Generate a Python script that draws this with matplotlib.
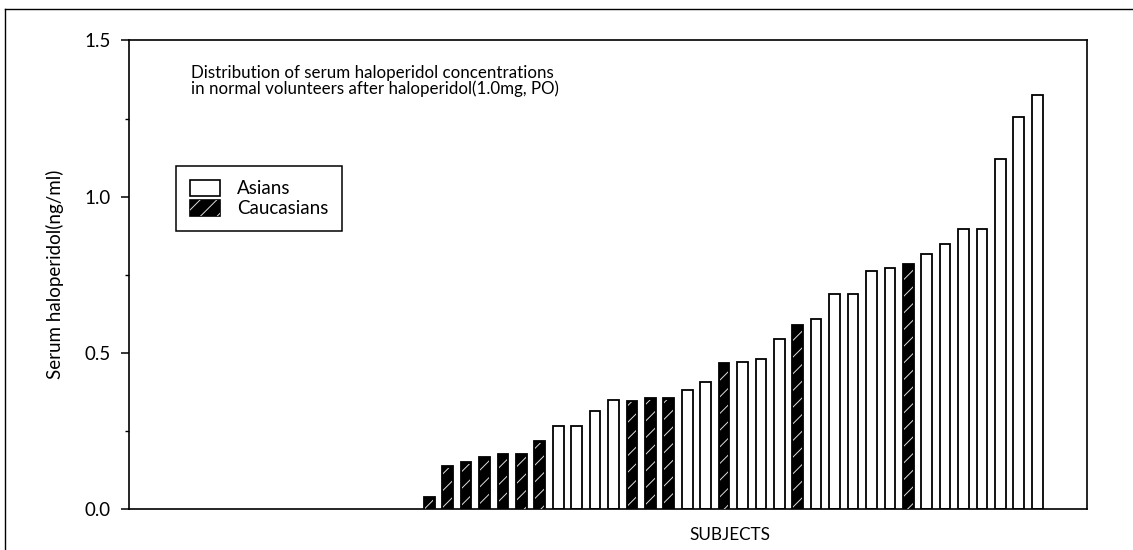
import numpy as np
import matplotlib
matplotlib.use("Agg")
import matplotlib.pyplot as plt
from matplotlib.patches import Patch
from matplotlib.lines import Line2D
from matplotlib.legend_handler import HandlerTuple

# serum haloperidol per subject (ng/ml), sorted
values = [0.040, 0.138, 0.151, 0.165, 0.176, 0.176, 0.217, 0.267, 0.267, 0.313,
          0.349, 0.347, 0.356, 0.356, 0.382, 0.408, 0.467, 0.470, 0.480, 0.545,
          0.590, 0.608, 0.689, 0.689, 0.762, 0.771, 0.784, 0.816, 0.847, 0.896,
          0.896, 1.120, 1.255, 1.325]
# A = Asians, C = Caucasians
groups = list("CCCCCCC" "AAAA" "CCC" "AA" "C" "AAA" "C" "AAAAA" "C" "AAAAAAA")

y_major = [0.0, 0.5, 1.0, 1.5]
y_minor = [0.25, 0.75, 1.25]

plt.rcParams['font.family'] = ['Lato', 'DejaVu Sans']
plt.rcParams['hatch.linewidth'] = 0.7

fig = plt.figure(figsize=(11.33, 5.5), dpi=100)
ax = fig.add_axes([0.1139, 0.0745, 0.8455, 0.852])

x = np.arange(len(values))
vals = np.array(values)
is_c = np.array([g == "C" for g in groups])
w = 0.58

# asians: white bars
ax.bar(x[~is_c], vals[~is_c], width=w, color="white", edgecolor="black", linewidth=1.3, zorder=2)
# caucasians: black bars with white diagonal hatch
ax.bar(x[is_c], vals[is_c], width=w, color="black", edgecolor="black", linewidth=1.3, zorder=2)
ax.bar(x[is_c], vals[is_c] - 0.006, width=w * 0.8, color="none", edgecolor="#dddddd",
       hatch="//", linewidth=0, zorder=3)

ax.set_xlim(-16.29, 35.7)
ax.set_ylim(0, 1.5)
ax.set_xticks([])
ax.set_yticks(y_major)
ax.set_yticklabels(["%.1f" % v for v in y_major], fontsize=13.5)
ax.set_yticks(y_minor, minor=True)
ax.tick_params(axis="y", which="major", direction="out", length=6, width=1.1, pad=7)
ax.tick_params(axis="y", which="minor", direction="out", length=3, width=1.0)
for s in ax.spines.values():
    s.set_linewidth(1.2)

ax.set_ylabel("Serum haloperidol(ng/ml)", fontsize=13.5, labelpad=15)
fig.text(730 / 1133, 1 - 535 / 550, "SUBJECTS", fontsize=12.3, ha="center", va="center")

ax.text(0.065, 0.948, "Distribution of serum haloperidol concentrations\n"
        "in normal volunteers after haloperidol(1.0mg, PO)",
        transform=ax.transAxes, fontsize=12.2, ha="left", va="top", linespacing=0.95)

h_a = Patch(facecolor="white", edgecolor="black", linewidth=1.2)
h_c = (Patch(facecolor="black", edgecolor="black", linewidth=1.2),
       Patch(facecolor="none", edgecolor="#dddddd", hatch="//", linewidth=0))
leg = ax.legend([h_a, h_c], ["Asians", "Caucasians"],
                handler_map={tuple: HandlerTuple(ndivide=1, pad=0)},
                loc="upper left", bbox_to_anchor=(0.049, 0.732), fontsize=13.5,
                frameon=True, fancybox=False, edgecolor="black", framealpha=1,
                handlelength=1.6, handleheight=0.9, borderpad=0.75, labelspacing=0.15,
                handletextpad=0.9, borderaxespad=0)
leg.get_frame().set_linewidth(1.1)

# outer figure border (top and left visible)
fig.add_artist(Line2D([5 / 1133, 5 / 1133], [0, 1 - 9 / 550], color="black", linewidth=1.0))
fig.add_artist(Line2D([5 / 1133, 1], [1 - 9 / 550, 1 - 9 / 550], color="black", linewidth=1.0))

fig.savefig("out.png", dpi=100)
